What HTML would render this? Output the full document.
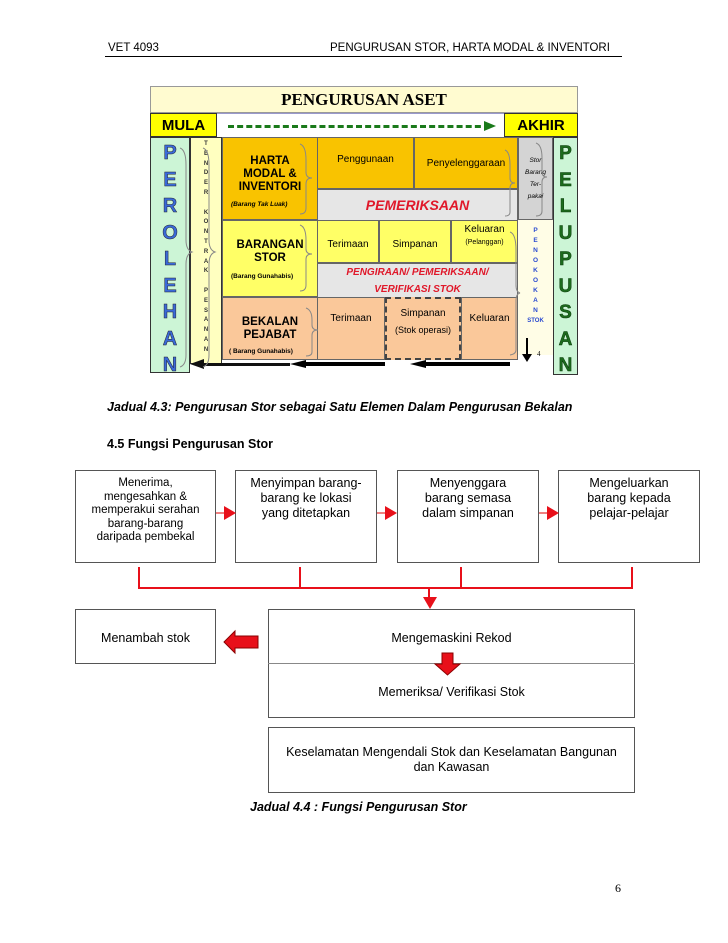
<!DOCTYPE html>
<html><head><meta charset="utf-8"><style>
body{margin:0;background:#fff;}
#p{position:relative;width:728px;height:943px;overflow:hidden;font-family:"Liberation Sans",sans-serif;color:#000;}
.a{position:absolute;box-sizing:border-box;}
.c{display:flex;align-items:center;justify-content:center;text-align:center;flex-direction:column;}
.b{border:1px solid #555;}
.vl{font-family:"Liberation Sans",sans-serif;font-weight:900;text-align:center;line-height:1;}
</style></head><body><div id="p">
<!-- header -->
<div class="a" style="left:108px;top:42px;font-size:11.5px;">VET 4093</div>
<div class="a" style="left:330px;top:42px;font-size:11.5px;">PENGURUSAN STOR, HARTA MODAL &amp; INVENTORI</div>
<div class="a" style="left:105px;top:56px;width:517px;height:1px;background:#000"></div>

<!-- top diagram -->
<div class="a c" style="left:150px;top:86px;width:428px;height:27px;background:#fffbd0;border:1px solid #999;font-family:'Liberation Serif',serif;font-weight:bold;font-size:17px;">PENGURUSAN ASET</div>
<div class="a c" style="left:150px;top:113px;width:67px;height:24px;background:#ffff00;border:1px solid #333;font-weight:bold;font-size:15px;">MULA</div>
<div class="a" style="left:217px;top:113px;width:287px;height:24px;background:#fff;border-top:1px solid #99c;"></div>
<div class="a" style="left:228px;top:125px;width:262px;border-top:3px dashed #1a7a1a;"></div>
<svg class="a" style="left:484px;top:119px" width="14" height="14"><polygon points="0,2 12,7 0,12" fill="#1a7a1a"/></svg>
<div class="a c" style="left:504px;top:113px;width:74px;height:24px;background:#ffff00;border:1px solid #333;font-weight:bold;font-size:15px;">AKHIR</div>

<div class="a" style="left:150px;top:137px;width:40px;height:236px;background:#ccf5d6;border:1px solid #333;"></div>
<div class="a vl" style="left:150px;top:140px;width:40px;font-size:20px;color:#3a6ad8;line-height:26.5px;-webkit-text-stroke:0.5px #223;">P<br>E<br>R<br>O<br>L<br>E<br>H<br>A<br>N</div>
<div class="a" style="left:190px;top:137px;width:32px;height:227px;background:#ffffc0;border:1px solid #333;"></div>
<div class="a" style="left:190px;top:140px;width:32px;font-size:6px;text-align:center;line-height:9.8px;font-weight:bold;color:#333;">T<br>E<br>N<br>D<br>E<br>R<br><br>K<br>O<br>N<br>T<br>R<br>A<br>K<br><br>P<br>E<br>S<br>A<br>N<br>A<br>N</div>

<!-- row 1 -->
<div class="a c" style="left:222px;top:137px;width:96px;height:83px;background:#f9c300;border:1px solid #666;font-weight:bold;font-size:11.5px;line-height:13px;padding-bottom:8px;">HARTA<br>MODAL &amp;<br>INVENTORI</div>
<div class="a" style="left:231px;top:201px;font-size:6.5px;font-style:italic;font-weight:bold;">(Barang Tak Luak)</div>
<div class="a c" style="left:317px;top:137px;width:97px;height:52px;background:#f9c300;border:1px solid #666;font-size:10px;padding-bottom:8px;">Penggunaan</div>
<div class="a c" style="left:414px;top:137px;width:104px;height:52px;background:#f9c300;border:1px solid #666;font-size:10px;">Penyelenggaraan</div>
<div class="a c" style="left:317px;top:189px;width:201px;height:32px;background:#e6e6e6;border:1px solid #666;color:#e0182a;font-weight:bold;font-style:italic;font-size:14px;">PEMERIKSAAN</div>
<div class="a c" style="left:518px;top:137px;width:35px;height:83px;background:#d4d4d4;border:1px solid #666;font-size:6.5px;font-style:italic;line-height:12px;">Stor<br>Barang<br>Ter-<br>pakai</div>

<!-- row 2 -->
<div class="a c" style="left:222px;top:220px;width:96px;height:77px;background:#ffff66;border:1px solid #666;font-weight:bold;font-size:11.5px;line-height:13px;padding-bottom:14px;">BARANGAN<br>STOR</div>
<div class="a" style="left:231px;top:273px;font-size:6.5px;font-weight:bold;">(Barang Gunahabis)</div>
<div class="a c" style="left:317px;top:220px;width:62px;height:43px;background:#ffff66;border:1px solid #666;font-size:10px;padding-top:6px;">Terimaan</div>
<div class="a c" style="left:379px;top:220px;width:72px;height:43px;background:#ffff66;border:1px solid #666;font-size:10px;padding-top:6px;">Simpanan</div>
<div class="a c" style="left:451px;top:220px;width:67px;height:43px;background:#ffff66;border:1px solid #666;font-size:10px;line-height:13px;justify-content:flex-start;padding-top:2px;">Keluaran<br><span style="font-size:7px">(Pelanggan)</span></div>
<div class="a c" style="left:317px;top:263px;width:201px;height:35px;background:#e6e6e6;border:1px solid #666;color:#e0182a;font-weight:bold;font-style:italic;font-size:10px;line-height:17px;">PENGIRAAN/ PEMERIKSAAN/<br>VERIFIKASI STOK</div>
<div class="a" style="left:518px;top:220px;width:35px;height:135px;background:#fffde6;"></div>
<div class="a" style="left:518px;top:226px;width:35px;font-size:6.5px;font-weight:900;color:#2a4ad0;text-align:center;line-height:10px;">P<br>E<br>N<br>O<br>K<br>O<br>K<br>A<br>N<br><span style="font-size:6px">STOK</span></div>
<div class="a" style="left:526px;top:338px;width:2px;height:20px;background:#000"></div>
<svg class="a" style="left:522px;top:354px" width="10" height="8"><polygon points="0,0 10,0 5,8" fill="#000"/></svg>
<div class="a" style="left:537px;top:350px;font-family:'Liberation Serif',serif;font-size:7px;">4</div>

<!-- row 3 -->
<div class="a c" style="left:222px;top:297px;width:96px;height:63px;background:#fac89a;border:1px solid #666;font-weight:bold;font-size:11.5px;line-height:13px;padding-bottom:6px;padding-top:6px;">BEKALAN<br>PEJABAT</div>
<div class="a" style="left:229px;top:348px;font-size:6.5px;font-weight:bold;">( Barang Gunahabis)</div>
<div class="a c" style="left:317px;top:297px;width:68px;height:63px;background:#fac89a;border:1px solid #666;font-size:10px;padding-bottom:20px;">Terimaan</div>
<div class="a c" style="left:385px;top:297px;width:76px;height:63px;background:#fac89a;border:2px dashed #444;font-size:10px;line-height:16px;padding-bottom:14px;">Simpanan<br><span style="font-size:9px">(Stok operasi)</span></div>
<div class="a c" style="left:461px;top:297px;width:57px;height:63px;background:#fac89a;border:1px solid #666;font-size:10px;padding-bottom:20px;">Keluaran</div>

<!-- Pelupusan -->
<div class="a" style="left:553px;top:137px;width:25px;height:238px;background:#ccf5d6;border:1px solid #333;"></div>
<div class="a vl" style="left:553px;top:141px;width:25px;font-size:19px;color:#1d6b1d;line-height:26.5px;-webkit-text-stroke:0.5px #0a3a0a;">P<br>E<br>L<br>U<br>P<br>U<br>S<br>A<br>N</div>

<!-- bottom arrows -->
<div class="a" style="left:200px;top:363px;width:90px;height:3px;background:#111;"></div>
<svg class="a" style="left:190px;top:359px" width="14" height="10"><polygon points="0,5 14,0 14,10" fill="#111"/></svg>
<div class="a" style="left:305px;top:362px;width:80px;height:4px;background:#000;"></div>
<svg class="a" style="left:290px;top:359px" width="16" height="10"><polygon points="0,5 16,1 16,9" fill="#000"/></svg>
<div class="a" style="left:425px;top:362px;width:85px;height:4px;background:#000;"></div>
<svg class="a" style="left:410px;top:359px" width="16" height="10"><polygon points="0,5 16,1 16,9" fill="#000"/></svg>

<!-- braces -->
<svg class="a" style="left:0;top:0" width="728" height="400" fill="none" stroke="#888" stroke-width="1">
<path d="M180,148 Q186,150 186,165 L186,240 Q186,250 192,252 Q186,254 186,264 L186,355 Q186,365 180,367"/>
<path d="M203,148 Q209,150 209,165 L209,240 Q209,250 215,252 Q209,254 209,264 L209,355 Q209,365 203,367"/>
<path d="M300,144 Q306,146 306,160 L306,172 Q306,178 312,178 Q306,178 306,184 L306,208 Q306,214 300,214"/>
<path d="M300,225 Q306,227 306,240 L306,249 Q306,254 312,254 Q306,254 306,259 L306,285 Q306,291 300,291"/>
<path d="M306,308 Q312,310 312,320 L312,325 Q312,330 318,330 Q312,330 312,335 L312,352 Q312,356 306,356"/>
<path d="M505,150 Q510,152 510,165 L510,178 Q510,183 515,183 Q510,183 510,188 L510,212 Q510,216 505,216"/>
<path d="M536,143 Q542,145 542,158 L542,172 Q542,177 547,177 Q542,177 542,182 L542,211 Q542,216 536,216"/>
<path d="M510,232 Q516,234 516,250 L516,285 Q516,292 520,293 Q516,294 516,300 L516,350 Q516,354 510,355"/>
</svg>

<div class="a" style="left:107px;top:400px;font-size:12.5px;font-weight:bold;font-style:italic;">Jadual 4.3: Pengurusan Stor sebagai Satu Elemen Dalam Pengurusan Bekalan</div>
<div class="a" style="left:107px;top:437px;font-size:12.5px;font-weight:bold;">4.5 Fungsi Pengurusan Stor</div>

<!-- flow diagram -->
<div class="a b" style="left:75px;top:470px;width:141px;height:93px;font-size:11.5px;line-height:13.5px;text-align:center;padding-top:6px;">Menerima,<br>mengesahkan &amp;<br>memperakui serahan<br>barang-barang<br>daripada pembekal</div>
<div class="a b" style="left:235px;top:470px;width:142px;height:93px;font-size:12.5px;line-height:15px;text-align:center;padding-top:5px;">Menyimpan barang-<br>barang ke lokasi<br>yang ditetapkan</div>
<div class="a b" style="left:397px;top:470px;width:142px;height:93px;font-size:12.5px;line-height:15px;text-align:center;padding-top:5px;">Menyenggara<br>barang semasa<br>dalam simpanan</div>
<div class="a b" style="left:558px;top:470px;width:142px;height:93px;font-size:12.5px;line-height:15px;text-align:center;padding-top:5px;">Mengeluarkan<br>barang kepada<br>pelajar-pelajar</div>

<div class="a b" style="left:75px;top:609px;width:141px;height:55px;"></div>
<div class="a" style="left:75px;top:631px;width:141px;text-align:center;font-size:12.5px;">Menambah stok</div>
<div class="a b" style="left:268px;top:609px;width:367px;height:109px;"></div>
<div class="a" style="left:268px;top:663px;width:367px;height:1px;background:#888"></div>
<div class="a" style="left:268px;top:631px;width:367px;text-align:center;font-size:12.5px;">Mengemaskini Rekod</div>
<div class="a" style="left:268px;top:685px;width:367px;text-align:center;font-size:12.5px;">Memeriksa/ Verifikasi Stok</div>
<div class="a b c" style="left:268px;top:727px;width:367px;height:66px;font-size:12.5px;line-height:15px;">Keselamatan Mengendali Stok dan Keselamatan Bangunan<br>dan Kawasan</div>
<div class="a" style="left:250px;top:800px;font-size:12.5px;font-weight:bold;font-style:italic;">Jadual 4.4 : Fungsi Pengurusan Stor</div>

<svg class="a" style="left:0;top:0" width="728" height="943">
<g fill="#e8101a" stroke="none">
<rect x="216" y="512" width="10" height="2" fill="#f08080"/><polygon points="224,506 236,513 224,520"/>
<rect x="377" y="512" width="10" height="2" fill="#f08080"/><polygon points="385,506 397,513 385,520"/>
<rect x="539" y="512" width="10" height="2" fill="#f08080"/><polygon points="547,506 559,513 547,520"/>
<polygon points="423,597 437,597 430,609"/>
</g>
<g stroke="#e8101a" stroke-width="2" fill="none">
<path d="M139,567 V588 H632 V567"/><path d="M300,567 V588"/><path d="M461,567 V588"/><path d="M429,588 V598"/>
</g>
<polygon points="224,642 235,631 235,636 258,636 258,648 235,648 235,653" fill="#e8101a" stroke="#8a0000" stroke-width="1"/>
<polygon points="442,653 453,653 453,664 460,664 447.5,675 435,664 442,664" fill="#e8101a" stroke="#8a0000" stroke-width="1"/>
</svg>

<div class="a" style="left:615px;top:881px;font-family:'Liberation Serif',serif;font-size:12px;">6</div>
</div></body></html>
